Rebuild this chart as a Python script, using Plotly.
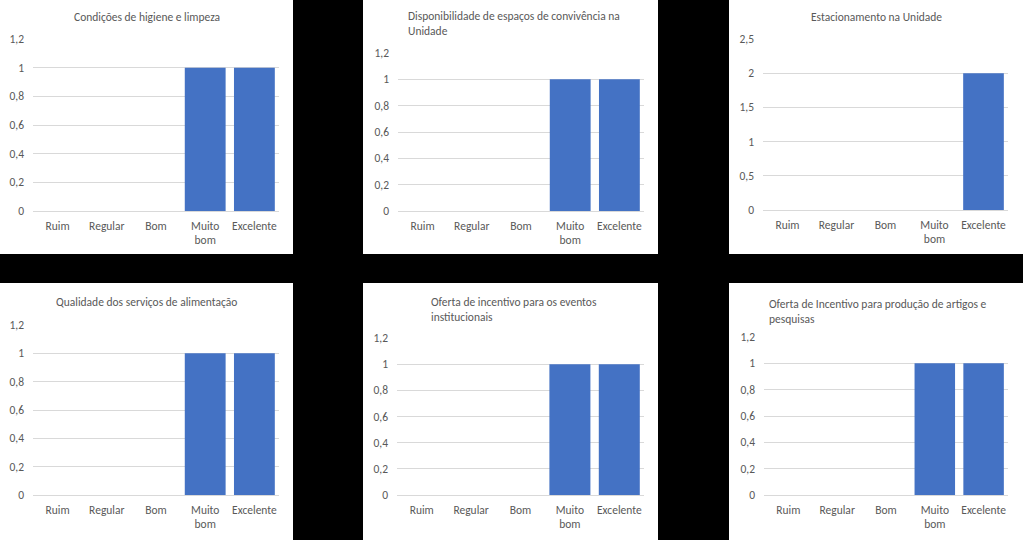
import plotly.graph_objects as go

categories = ["Ruim", "Regular", "Bom", "Muito bom", "Excelente"]
cat_labels = ["Ruim", "Regular", "Bom", "Muito<br>bom", "Excelente"]

titles = [
    "Condições de higiene e limpeza",
    "Disponibilidade de espaços de convivência na<br>Unidade",
    "Estacionamento na Unidade",
    "Qualidade dos serviços de alimentação",
    "Oferta de incentivo para os eventos<br>institucionais",
    "Oferta de Incentivo para produção de artigos e<br>pesquisas",
]

values_higiene = [0, 0, 0, 1, 1]
values_convivencia = [0, 0, 0, 1, 1]
values_estacionamento = [0, 0, 0, 0, 2]
values_alimentacao = [0, 0, 0, 1, 1]
values_eventos = [0, 0, 0, 1, 1]
values_artigos = [0, 0, 0, 1, 1]

series = [values_higiene, values_convivencia, values_estacionamento,
          values_alimentacao, values_eventos, values_artigos]
y_max = [1.2, 1.2, 2.5, 1.2, 1.2, 1.2]
y_dtick = [0.2, 0.2, 0.5, 0.2, 0.2, 0.2]

W, H = 1023, 540
BAR = "#4472C4"
GRID = "#D9D9D9"
TXT = "#595959"
FONT = "Carlito, Calibri, Lato, sans-serif"
FS = 11.5

# layout (pixel geometry)
panels = [(0, 0, 293, 254), (363, 0, 658, 254), (729, 0, 1023, 254),
          (0, 283, 293, 540), (363, 283, 658, 540), (729, 283, 1023, 540)]
plot_areas = [(33, 279, 211, 39), (398, 644, 211, 53), (763, 1008, 210, 39),
              (33, 279, 495, 325), (397, 644, 495, 338), (764, 1008, 495, 337)]
# title: (x, y_center, align)
title_pos = [(147, 17, "center"), (406, 24, "left"), (876, 17, "center"),
             (146, 302, "center"), (429, 309, "left"), (767, 311, "left")]

def px(x):
    return x / W

def py(y):
    return 1 - y / H

fig = go.Figure()
shapes = []
annotations = []
layout_axes = {}
for i in range(6):
    n = "" if i == 0 else str(i + 1)
    fig.add_trace(go.Bar(x=categories, y=series[i], marker_color=BAR,
                         marker_line_width=0, xaxis="x" + n, yaxis="y" + n,
                         showlegend=False, hoverinfo="x+y"))
    x0, x1, y0, y1 = plot_areas[i]
    layout_axes["xaxis" + n] = dict(
        domain=[px(x0), px(x1)], anchor="y" + n, showgrid=False, showline=False,
        zeroline=False, tickmode="array", tickvals=categories, ticktext=cat_labels,
        tickfont=dict(family=FONT, size=FS, color=TXT), ticks="", ticklabelstandoff=6,
        automargin=False, fixedrange=True)
    layout_axes["yaxis" + n] = dict(
        domain=[py(y0), py(y1)], anchor="x" + n, range=[0, y_max[i]],
        dtick=y_dtick[i], tick0=0, showgrid=True, gridcolor=GRID, gridwidth=1,
        zeroline=True, zerolinecolor=GRID, zerolinewidth=1, showline=False,
        tickfont=dict(family=FONT, size=FS, color=TXT), ticks="",
        ticklabelstandoff=8, automargin=False, fixedrange=True)
    a, b, c, d = panels[i]
    shapes.append(dict(type="rect", xref="paper", yref="paper",
                       x0=px(a), x1=px(c), y0=py(d), y1=py(b),
                       fillcolor="white", line_width=0, layer="below"))
    tx, ty, al = title_pos[i]
    annotations.append(dict(text=titles[i], xref="paper", yref="paper",
                            x=px(tx), y=py(ty), xanchor=al, yanchor="middle",
                            align="left", showarrow=False,
                            font=dict(family=FONT, size=FS, color=TXT)))

fig.update_layout(
    width=W, height=H, margin=dict(l=0, r=0, t=0, b=0, pad=0, autoexpand=False),
    paper_bgcolor="black", plot_bgcolor="white",
    separators=",.", bargap=0.17,
    shapes=shapes, annotations=annotations, **layout_axes)

post = ("var d=document.getElementById('{plot_id}');"
        "d.style.position='fixed';d.style.top='0px';d.style.left='0px';"
        "document.body.style.margin='0';document.body.style.background='black';"
        "document.documentElement.style.overflow='hidden';")
fig.write_html("out.html", config={"displayModeBar": False}, post_script=post)
